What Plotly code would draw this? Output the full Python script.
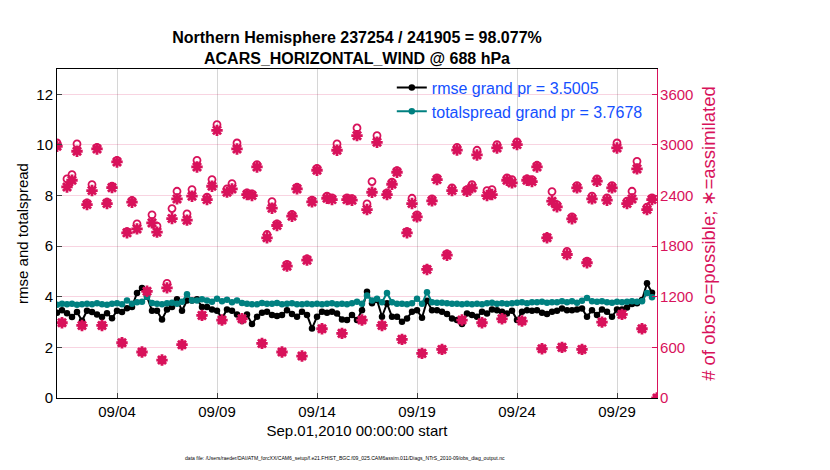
import pandas as pd
import plotly.graph_objects as go

# 6-hourly bins, Sep 1 00Z .. Oct 1 00Z
times = pd.date_range("2010-09-01 00:00", periods=121, freq="6h")

# observation counts (right axis)
n_possible = [
    3023, 892, 2597, 2648, 3012, 860, 2313, 2530, 2972, 860,
    2321, 2510, 2818, 655, 1973, 2341, 2064, 545, 1265, 2171,
    2037, 450, 1358, 2246, 2451, 632, 2183, 2471, 2818, 979,
    2380, 2589, 3240, 924, 2479, 2542, 3023, 939, 2431, 2420,
    2767, 647, 1938, 2329, 2064, 545, 1583, 2175, 2498, 497,
    1650, 2345, 2723, 821, 2392, 2372, 3012, 766, 2372, 2364,
    3201, 924, 2301, 2566, 3110, 860, 2431, 2558, 2696, 695,
    1973, 2368, 2171, 529, 1531, 2360, 2609, 576, 1709, 2491,
    2972, 924, 2471, 2530, 2937, 892, 2459, 2471, 3004, 939,
    2609, 2589, 3035, 912, 2597, 2589, 2759, 584, 1906, 2447,
    2293, 600, 1737, 2147, 2518, 576, 1622, 2392, 2597, 900,
    2372, 2518, 3023, 991, 2333, 2451, 2806, 821, 2262, 2372,
    0,
]
n_used = [
    2984, 892, 2502, 2581, 2925, 860, 2293, 2459, 2952, 860,
    2305, 2494, 2798, 655, 1958, 2321, 2005, 545, 1265, 2076,
    1966, 450, 1306, 2127, 2360, 632, 2108, 2392, 2739, 979,
    2352, 2510, 3173, 924, 2440, 2479, 2952, 939, 2412, 2400,
    2739, 647, 1899, 2250, 2045, 545, 1563, 2155, 2479, 497,
    1634, 2325, 2700, 821, 2368, 2352, 2937, 766, 2352, 2345,
    3110, 924, 2234, 2439, 3031, 860, 2412, 2534, 2676, 695,
    1958, 2305, 2147, 529, 1524, 2337, 2589, 576, 1693, 2459,
    2939, 924, 2451, 2491, 2881, 892, 2400, 2412, 2964, 939,
    2581, 2550, 3004, 912, 2581, 2566, 2739, 584, 1899, 2333,
    2266, 600, 1701, 2124, 2491, 576, 1603, 2360, 2570, 900,
    2345, 2491, 2964, 991, 2305, 2360, 2716, 821, 2234, 2352,
    0,
]

# left axis
rmse = [
    3.37, 3.47, 3.35, 3.2, 3.4, 3.05, 3.45, 3.4, 3.3, 3.2,
    3.35, 3.15, 3.45, 3.4, 3.55, 3.6, 4.15, 4.35, 4.0, 3.45,
    3.45, 3.1, 3.5, 3.6, 3.9, 3.45, 3.85, 3.85, 3.9, 3.6,
    3.6, 3.5, 3.45, 3.15, 3.5, 3.45, 3.3, 3.05, 3.3, 2.92,
    3.21, 3.37, 3.41, 3.28, 3.24, 3.28, 3.47, 3.32, 3.21, 3.41,
    3.28, 2.75, 3.21, 3.41, 3.37, 3.41, 3.34, 3.1, 3.08, 3.28,
    3.08, 3.47, 4.2, 3.74, 3.87, 3.21, 3.74, 3.21, 3.21, 3.01,
    3.14, 3.41, 3.47, 3.17, 3.84, 3.47, 3.47, 3.41, 3.32, 3.14,
    3.08, 2.92, 3.34, 3.28, 3.21, 3.41, 3.34, 3.5, 3.47, 3.41,
    3.34, 3.45, 3.08, 3.41, 3.47, 3.45, 3.47, 3.37, 3.32, 3.41,
    3.45, 3.54, 3.47, 3.47, 3.5, 3.54, 3.21, 3.47, 3.28, 3.5,
    3.41, 3.21, 3.5, 3.5, 3.58, 3.71, 3.74, 3.87, 4.53, 4.16,
    None,
]
spread = [
    3.68, 3.72, 3.7, 3.72, 3.68, 3.7, 3.72, 3.7, 3.74, 3.7,
    3.68, 3.72, 3.74, 3.7, 3.85, 3.72, 3.78, 3.8, 4.0, 3.75,
    3.72, 3.7, 3.74, 3.76, 3.72, 3.8, 4.1, 3.85, 3.85, 3.9,
    3.85, 3.8, 3.92, 3.82, 3.88, 3.78, 3.85, 3.75, 3.72, 3.7,
    3.7, 3.75, 3.72, 3.72, 3.75, 3.7, 3.72, 3.74, 3.7, 3.7,
    3.72, 3.7, 3.72, 3.7, 3.72, 3.74, 3.7, 3.72, 3.7, 3.74,
    3.8, 3.72, 4.05, 3.85, 3.92, 3.78, 4.15, 3.78, 3.72, 3.72,
    3.7, 3.74, 3.92, 3.72, 4.18, 3.78, 3.76, 3.76, 3.74, 3.72,
    3.72, 3.7, 3.72, 3.7, 3.72, 3.7, 3.74, 3.76, 3.72, 3.74,
    3.72, 3.74, 3.76, 3.78, 3.74, 3.78, 3.78, 3.8, 3.76, 3.78,
    3.78, 3.82, 3.78, 3.82, 3.76, 3.84, 3.95, 3.82, 3.8, 3.82,
    3.78, 3.76, 3.8, 3.78, 3.8, 3.82, 3.8, 3.82, 4.15, 3.98,
    None,
]

tick_days = ["2010-09-04", "2010-09-09", "2010-09-14", "2010-09-19", "2010-09-24", "2010-09-29"]
tick_text = ["09/04", "09/09", "09/14", "09/19", "09/24", "09/29"]
left_ticks = [0, 2, 4, 6, 8, 10, 12]
right_ticks = [0, 600, 1200, 1800, 2400, 3000, 3600]

FONT = "Liberation Sans, Arial, Helvetica, sans-serif"
MAG = "#d8125b"
TEAL = "#008080"

fig = go.Figure()
fig.add_trace(go.Scatter(x=times, y=rmse, mode="lines+markers", name="rmse grand pr = 3.5005",
                         line=dict(color="black", width=2), marker=dict(color="black", size=6.5)))
fig.add_trace(go.Scatter(x=times, y=spread, mode="lines+markers", name="totalspread grand pr = 3.7678",
                         line=dict(color=TEAL, width=2), marker=dict(color=TEAL, size=6.5)))
fig.add_trace(go.Scatter(x=times, y=n_possible, mode="markers", yaxis="y2", showlegend=False,
                         marker=dict(symbol="circle-open", size=7, color=MAG, line=dict(width=1.8, color=MAG))))
fig.add_trace(go.Scatter(x=times, y=n_used, mode="markers", yaxis="y2", showlegend=False,
                         marker=dict(symbol="asterisk-open", size=9.5, color=MAG, line=dict(width=2.8, color=MAG))))

# the page body adds an 8px offset, so the figure is 8px smaller than the window
fig.update_layout(
    width=822, height=462,
    margin=dict(l=49, r=173, t=61, b=72),
    paper_bgcolor="white", plot_bgcolor="white",
    font=dict(family=FONT, size=15, color="black"),
    title=dict(text="<b>Northern Hemisphere 237254 / 241905 = 98.077%<br>ACARS_HORIZONTAL_WIND @ 688 hPa</b>",
               x=0.5, xref="paper", xanchor="center", y=0.924, yanchor="middle",
               font=dict(size=16, color="black")),
    legend=dict(x=0.558, y=0.995, xanchor="left", yanchor="top", bgcolor="rgba(0,0,0,0)",
                font=dict(size=16, color="#1450ff"), tracegroupgap=0),
    xaxis=dict(type="date", range=["2010-09-01 00:00", "2010-10-01 00:00"],
               tickvals=tick_days, ticktext=tick_text, ticks="inside", ticklen=5,
               showgrid=True, gridcolor="#d6d6d6", gridwidth=1,
               showline=True, linecolor="black", linewidth=1, mirror=True,
               zeroline=False, automargin=False,
               title=dict(text="Sep.01,2010 00:00:00 start", standoff=6, font=dict(size=15))),
    yaxis=dict(range=[0, 13], tickvals=left_ticks, ticks="inside", ticklen=5,
               showgrid=False, zeroline=False, showline=True, linecolor="black", linewidth=1,
               automargin=False,
               title=dict(text="rmse and totalspread", standoff=4, font=dict(size=15))),
    yaxis2=dict(range=[0, 3900], tickvals=right_ticks, overlaying="y", side="right",
                ticks="inside", ticklen=5, tickcolor=MAG, color=MAG, ticklabelstandoff=-1,
                showgrid=True, gridcolor="rgba(216,18,91,0.18)", gridwidth=1,
                zeroline=False, showline=True, linecolor=MAG, linewidth=1.2, automargin=False,
                title=dict(text="# of obs: o=possible; \u2217=assimilated", standoff=9,
                           font=dict(size=18.5, color=MAG))),
    annotations=[dict(text="data file: /Users/raeder/DAI/ATM_forcXX/CAM6_setup/f.e21.FHIST_BGC.f09_025.CAM6assim.011/Diags_NTrS_2010-09/obs_diag_output.nc",
                      x=0.48, y=-0.183, xref="paper", yref="paper", xanchor="center", yanchor="middle",
                      showarrow=False, font=dict(size=5.1, color="black"))],
)

fig.write_html("out.html")
